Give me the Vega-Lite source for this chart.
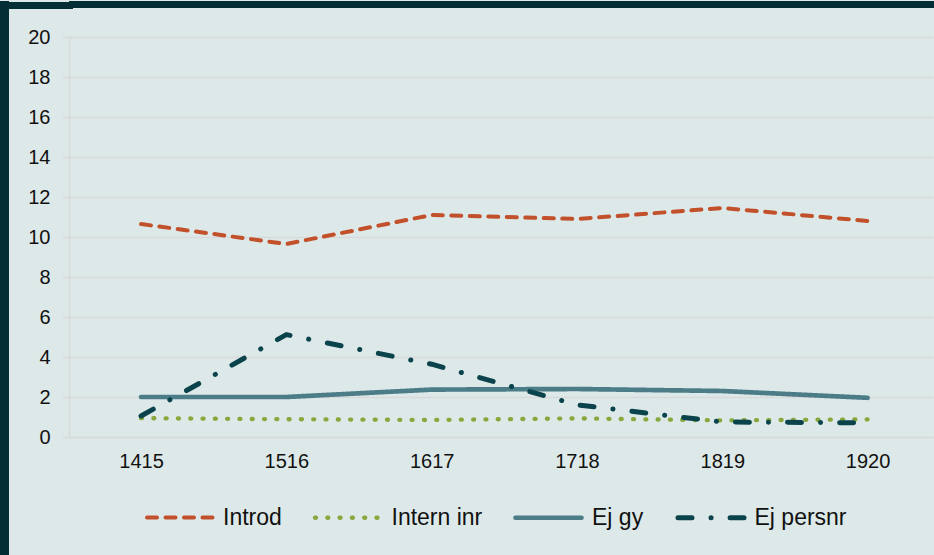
{
  "$schema": "https://vega.github.io/schema/vega-lite/v6.json",
  "background": "#dde9e8",
  "padding": 0,
  "autosize": {"type": "pad"},
  "config": {
    "view": {"stroke": null},
    "font": "Liberation Sans",
    "axis": {
      "labelFont": "Liberation Sans",
      "labelFontSize": 20,
      "labelColor": "#111111",
      "domainColor": "#d9d9d9",
      "gridColor": "#d9d9d9",
      "tickColor": "#d9d9d9",
      "domainWidth": 1.5,
      "gridWidth": 1.5,
      "tickWidth": 1.5
    }
  },
  "spacing": -3,
  "hconcat": [
    {
      "width": 9,
      "height": 555,
      "data": {"values": []},
      "mark": "rect",
      "encoding": {},
      "view": {"fill": "#042e35", "stroke": null}
    },
    {
      "spacing": 17,
      "vconcat": [
        {
          "width": 928,
          "height": 7,
          "data": {"values": []},
          "mark": "point",
          "encoding": {
            "y": {
              "datum": 0,
              "type": "quantitative",
              "scale": {"domain": [-1, 1]},
              "axis": {
                "title": null,
                "values": [0],
                "labels": false,
                "domain": false,
                "grid": false,
                "ticks": true,
                "tickSize": 57.5,
                "tickWidth": 7,
                "tickCap": "square",
                "tickColor": "#042e35"
              }
            }
          },
          "view": {"fill": "#042e35", "stroke": null}
        },
        {
          "width": 864,
          "height": 400,
          "data": {
            "values": [
              {"year": "1415", "series": "Introd", "value": 10.65},
              {"year": "1516", "series": "Introd", "value": 9.65},
              {"year": "1617", "series": "Introd", "value": 11.1},
              {"year": "1718", "series": "Introd", "value": 10.9},
              {"year": "1819", "series": "Introd", "value": 11.45},
              {"year": "1920", "series": "Introd", "value": 10.8},
              {"year": "1415", "series": "Intern inr", "value": 0.94},
              {"year": "1516", "series": "Intern inr", "value": 0.89},
              {"year": "1617", "series": "Intern inr", "value": 0.85},
              {"year": "1718", "series": "Intern inr", "value": 0.93},
              {"year": "1819", "series": "Intern inr", "value": 0.83},
              {"year": "1920", "series": "Intern inr", "value": 0.88},
              {"year": "1415", "series": "Ej gy", "value": 2.0},
              {"year": "1516", "series": "Ej gy", "value": 2.0},
              {"year": "1617", "series": "Ej gy", "value": 2.37},
              {"year": "1718", "series": "Ej gy", "value": 2.4},
              {"year": "1819", "series": "Ej gy", "value": 2.3},
              {"year": "1920", "series": "Ej gy", "value": 1.96},
              {"year": "1415", "series": "Ej persnr", "value": 1.05},
              {"year": "1516", "series": "Ej persnr", "value": 5.12},
              {"year": "1617", "series": "Ej persnr", "value": 3.64},
              {"year": "1718", "series": "Ej persnr", "value": 1.61},
              {"year": "1819", "series": "Ej persnr", "value": 0.75},
              {"year": "1920", "series": "Ej persnr", "value": 0.71}
            ]
          },
          "mark": {"type": "line", "strokeCap": "round", "strokeJoin": "round"},
          "encoding": {
            "x": {
              "field": "year",
              "type": "ordinal",
              "sort": null,
              "scale": {"type": "point", "padding": 0.473, "align": 0.524},
              "axis": {
                "title": null,
                "labelAngle": 0,
                "ticks": false,
                "grid": false,
                "domain": true,
                "labelPadding": 14
              }
            },
            "y": {
              "field": "value",
              "type": "quantitative",
              "scale": {"domain": [0, 20], "nice": false},
              "axis": {
                "title": null,
                "values": [0, 2, 4, 6, 8, 10, 12, 14, 16, 18, 20],
                "grid": true,
                "tickSize": 7,
                "labelPadding": 12,
                "minExtent": 61
              }
            },
            "color": {
              "field": "series",
              "type": "nominal",
              "title": null,
              "scale": {
                "domain": ["Introd", "Intern inr", "Ej gy", "Ej persnr"],
                "range": ["#c1502b", "#86a83c", "#4b7c87", "#0b434c"]
              },
              "legend": {
                "orient": "none",
                "legendX": 145,
                "legendY": 481,
                "direction": "horizontal",
                "padding": 0,
                "symbolType": "stroke",
                "symbolSize": 4356,
                "labelFont": "Liberation Sans",
                "labelFontSize": 23,
                "labelColor": "#111111",
                "labelOffset": 8,
                "columnPadding": 23.5,
                "encode": {
                  "symbols": {"update": {"strokeCap": {"value": "round"}}}
                }
              }
            },
            "strokeDash": {
              "field": "series",
              "type": "nominal",
              "title": null,
              "scale": {
                "domain": ["Introd", "Intern inr", "Ej gy", "Ej persnr"],
                "range": [[10, 8.5], [1, 11.3], [1, 0], [14, 19, 0.1, 19]]
              }
            },
            "strokeWidth": {
              "field": "series",
              "type": "nominal",
              "title": null,
              "scale": {
                "domain": ["Introd", "Intern inr", "Ej gy", "Ej persnr"],
                "range": [4, 5, 5.5, 4]
              }
            }
          }
        }
      ]
    }
  ]
}
